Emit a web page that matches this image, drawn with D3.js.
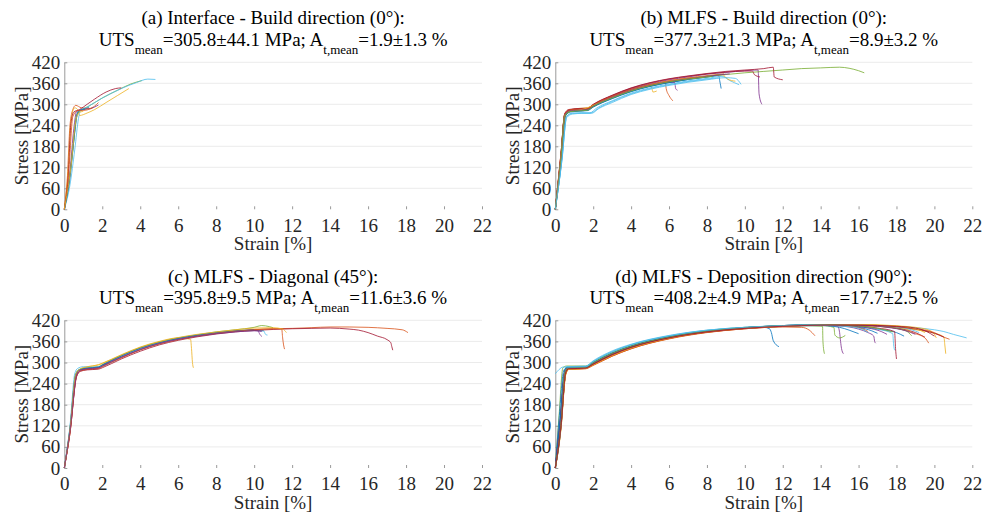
<!DOCTYPE html>
<html><head><meta charset="utf-8">
<script src="https://cdn.jsdelivr.net/npm/d3@7/dist/d3.min.js"></script>
<style>
html,body{margin:0;padding:0;background:#fff;}
svg{display:block;}
</style></head>
<body>
<svg id="chart" width="993" height="516"></svg>
<script>
// ---------------- DATA ----------------
const xTicks = [0,2,4,6,8,10,12,14,16,18,20,22];
const yTicks = [0,60,120,180,240,300,360,420];
const xLabel = "Strain [%]";
const yLabel = "Stress [MPa]";
const lineColors = ["#0072BD","#D95319","#EDB120","#7E2F8E","#77AC30","#4DBEEE","#A2142F"];

const titlesLine1 = [
  "(a) Interface - Build direction (0°):",
  "(b) MLFS - Build direction (0°):",
  "(c) MLFS - Diagonal (45°):",
  "(d) MLFS - Deposition direction (90°):"
];
const utsText = ["=305.8±44.1 MPa; A","=377.3±21.3 MPa; A","=395.8±9.5 MPa; A","=408.2±4.9 MPa; A"];
const atText  = ["=1.9±1.3 %","=8.9±3.2 %","=11.6±3.6 %","=17.7±2.5 %"];

const curvesA = [
  [[0,0],[0.2,60],[0.45,170],[0.65,265],[0.75,282],[1.0,285],[1.3,292]],
  [[0,0],[0.15,80],[0.3,240],[0.45,285],[0.6,297],[0.9,290],[1.3,288],[1.6,295],[1.8,305]],
  [[0,0],[0.2,110],[0.35,255],[0.55,290],[0.7,285],[0.8,268],[1.2,275],[1.6,285],[2.2,305],[2.8,325],[3.4,345]],
  [[0,0],[0.3,110],[0.5,230],[0.65,280],[1.0,285],[1.4,288],[1.8,298]],
  [[0,0],[0.25,80],[0.5,200],[0.65,270],[0.9,283],[1.3,295],[2,318],[2.8,340],[3.5,358],[4.1,368]],
  [[0,0],[0.3,70],[0.55,170],[0.75,260],[0.85,282],[1.2,292],[2,318],[3,345],[3.8,362],[4.4,372],[4.8,371]],
  [[0,0],[0.2,90],[0.35,245],[0.5,278],[0.8,285],[1.2,300],[1.6,315],[2.2,335],[2.7,345],[3,347]],
  [[0,0],[0.3,90],[0.55,220],[0.7,275],[0.9,285],[1.1,287]],
  [[0,0],[0.25,120],[0.45,265],[0.7,282],[1.1,283],[1.5,290]],
  [[0,0],[0.35,120],[0.6,250],[0.75,275],[1.0,280]]
];

const curvesB = [
  [[0,0],[0.3,150],[0.5,268],[0.7,280],[1.2,282],[1.7,284],[2,294],[3,318],[4,338],[5,352],[6,362],[7,371],[8,378],[8.6,383],[8.7,360],[8.75,345]],
  [[0,0],[0.3,160],[0.5,272],[0.7,283],[1.2,285],[1.7,286],[2,298],[3,322],[4,342],[5,355],[5.8,362],[5.85,345],[6.0,325],[6.2,310]],
  [[0,0],[0.3,155],[0.5,270],[0.7,282],[1.2,288],[1.7,290],[2,299],[3,323],[4,342],[5,352],[5.1,345],[5.15,335],[5.35,338]],
  [[0,0],[0.3,150],[0.5,270],[0.7,282],[1.2,284],[1.7,286],[2,298],[3,324],[4,345],[5,359],[6,370],[7,378],[8,386],[9,391],[10,396],[10.7,398],[10.75,330],[10.9,300]],
  [[0,0],[0.3,140],[0.55,268],[0.8,280],[1.2,282],[1.7,284],[2,293],[3,318],[4,338],[5,353],[6,364],[7,372],[8,379],[9,385],[10,390],[11,394],[12,398],[13,402],[14,404],[15,406],[15.5,403],[16,396],[16.3,390]],
  [[0,0],[0.35,140],[0.6,265],[0.9,275],[1.4,276],[1.8,275],[2.2,290],[3,310],[4,332],[5,347],[6,358],[7,367],[8,374],[8.8,380],[9.2,368],[9.7,356]],
  [[0,0],[0.3,160],[0.5,274],[0.7,285],[1.2,288],[1.7,289],[2,300],[3,326],[4,347],[5,362],[6,373],[7,381],[8,388],[9,394],[10,398],[11,402],[11.5,406],[11.55,378],[12,370]],
  [[0,0],[0.35,150],[0.55,268],[0.8,278],[1.2,280],[1.7,282],[2,292],[3,316],[4,336],[5,351],[6,362],[7,371],[8,378],[8.5,382]],
  [[0,0],[0.3,150],[0.55,272],[0.8,282],[1.3,284],[1.8,286],[2,296],[3,321],[4,341],[5,356],[6,367],[7,375],[8,382],[8.9,387]],
  [[0,0],[0.3,150],[0.5,268],[0.75,280],[1.2,283],[1.7,285],[2,295],[3,320],[4,340],[5,354],[6,365],[7,373],[8,380],[8.8,385],[9.1,372],[9.5,366]],
  [[0,0],[0.3,155],[0.5,270],[0.75,282],[1.2,285],[1.7,287],[2,297],[3,322],[4,343],[5,356],[6,364],[6.3,362],[6.35,345],[6.45,340]],
  [[0,0],[0.3,150],[0.5,268],[0.8,280],[1.2,283],[1.7,285],[2,295],[3,319],[4,339],[5,354],[6,365],[7,373],[8,380],[9,386]],
  [[0,0],[0.35,145],[0.6,266],[0.9,274],[1.4,275],[1.9,276],[2.3,290],[3,308],[4,330],[5,345],[6,356],[7,365],[8,372],[8.6,376]],
  [[0,0],[0.3,155],[0.5,272],[0.75,284],[1.2,287],[1.7,288],[2,299],[3,325],[4,346],[5,361],[6,372],[7,380],[8,387],[9,392],[10,395],[10.4,395],[10.5,385],[10.8,378]],
  [[0,0],[0.3,150],[0.5,268],[0.75,279],[1.2,281],[1.7,283],[2,293],[3,317],[4,337],[5,352],[6,363],[7,371]],
  [[0,0],[0.3,160],[0.5,273],[0.75,284],[1.2,286],[1.7,287],[2,298],[3,323],[4,343],[5,357],[6,367],[7,375],[7.5,378]],
  [[0,0],[0.3,150],[0.5,269],[0.8,281],[1.2,283],[1.7,290],[2,297],[3,320],[4,340],[5,355],[6,366],[7,374],[8,380]],
  [[0,0],[0.3,150],[0.5,269],[0.75,281],[1.2,283],[1.7,285],[2,295],[3,320],[4,340],[5,354],[6,365],[7,373],[8,380],[9,386],[9.2,387]],
  [[0,0],[0.3,148],[0.5,268],[0.8,279],[1.2,281],[1.7,283],[2,294],[3,318],[4,338],[5,353],[6,364],[7,372],[8,378],[8.3,380]],
  [[0,0],[0.35,140],[0.6,262],[0.9,272],[1.4,274],[1.9,274],[2.3,288],[3,305],[4,328],[5,343],[6,354],[7,363],[8,370],[9,376],[9.5,374],[9.8,357]]
];

const curvesC = [
  [[0,0],[0.3,110],[0.6,262],[0.75,278],[1.2,283],[1.8,286],[2,292],[3,318],[4,340],[5,356],[6,368],[7,377],[8,384],[9,389],[10,392],[10.5,390]],
  [[0,0],[0.3,100],[0.65,262],[0.85,276],[1.2,280],[1.8,283],[2,288],[3,313],[4,336],[5,353],[6,366],[7,376],[8,384],[9,390],[10,394],[11,396],[12,397],[13,399],[14,401],[15,401],[16,400],[17,397],[17.8,393],[18.1,385]],
  [[0,0],[0.3,110],[0.6,265],[0.8,280],[1.2,287],[1.8,294],[2,298],[3,322],[4,344],[5,360],[6,370],[6.65,366],[6.7,340],[6.75,300],[6.8,285]],
  [[0,0],[0.3,105],[0.65,265],[0.8,278],[1.2,282],[1.8,285],[2,291],[3,316],[4,338],[5,355],[6,367],[7,376],[8,383],[9,389],[10,392],[10.2,390],[10.3,380],[10.4,374]],
  [[0,0],[0.3,110],[0.6,265],[0.8,280],[1.2,285],[1.8,288],[2,294],[3,320],[4,342],[5,358],[6,370],[7,379],[8,387],[9,393],[10,400],[10.4,405],[10.8,402],[11,399]],
  [[0,0],[0.3,120],[0.55,268],[0.7,283],[1.0,288],[1.5,287],[2,290],[3,316],[4,338],[5,354],[6,366],[7,375],[8,382],[9,388],[10,391],[10.5,390],[10.6,380],[10.7,378]],
  [[0,0],[0.3,100],[0.65,260],[0.85,275],[1.2,279],[1.8,281],[2,285],[3,310],[4,332],[5,350],[6,363],[7,373],[8,381],[9,387],[10,391],[11,394],[12,396],[13,397],[14,398],[15,395],[15.5,392],[16,385],[16.5,375],[17,365],[17.2,356],[17.25,345],[17.3,335]],
  [[0,0],[0.3,115],[0.6,266],[0.8,280],[1.2,284],[1.8,287],[2,293],[3,319],[4,341],[5,357],[6,369],[7,378],[8,385],[9,390],[10,393]],
  [[0,0],[0.3,100],[0.65,263],[0.85,277],[1.2,281],[1.8,284],[2,289],[3,314],[4,336],[5,353],[6,365],[7,375],[8,383],[9,389],[10,393],[11,396],[11.45,396],[11.5,370],[11.55,350],[11.6,338]],
  [[0,0],[0.3,112],[0.6,266],[0.8,281],[1.2,288],[1.8,293],[2,297],[3,321],[4,343],[5,359],[6,371],[7,380],[8,387],[9,393],[10,398],[11,399],[11.5,395],[11.7,385]],
  [[0,0],[0.3,105],[0.65,264],[0.85,278],[1.2,282],[1.8,285],[2,290],[3,315],[4,337],[5,354],[6,366],[7,375],[8,382],[9,387],[10,390],[10.4,388]]
];

const curvesD = [
  [[0,0],[0.25,120],[0.45,265],[0.6,283],[1.6,285],[2,297],[3,324],[4,344],[6,371],[8,388],[10,398],[11,400],[11.3,396],[11.4,385],[11.5,362],[11.8,345]],
  [[0,0],[0.3,130],[0.5,270],[0.65,282],[1.6,284],[2,294],[3,320],[4,341],[6,369],[8,386],[10,396],[12,401],[13,400],[13.4,392],[13.7,376]],
  [[0,0],[0.3,110],[0.55,265],[0.7,280],[1.6,283],[2,293],[3,319],[4,340],[6,368],[8,386],[10,397],[12,403],[14,406],[16,405],[18,399],[19,393],[20,383],[20.5,373],[20.55,350],[20.6,325]],
  [[0,0],[0.25,120],[0.5,272],[0.6,284],[1.6,286],[2,299],[3,326],[4,346],[6,372],[8,389],[10,399],[12,404],[14,406],[14.9,403],[15,385],[15.05,360],[15.1,340],[15.2,325]],
  [[0,0],[0.2,150],[0.4,285],[0.6,290],[1.6,290],[2,303],[3,330],[4,350],[6,375],[8,391],[10,400],[12,404],[13,405],[14.1,403],[14.12,360],[14.2,325]],
  [[0,0],[0.3,130],[0.5,275],[0.6,288],[1.6,290],[2,305],[3,333],[4,352],[6,377],[8,392],[10,400],[12,404],[14,407],[16,406],[18,403],[19,399],[20,393],[20.5,388],[21,380],[21.7,370]],
  [[0,0],[0.25,130],[0.5,275],[0.6,285],[1.6,286],[2,299],[3,326],[4,346],[6,372],[8,389],[10,399],[12,405],[14,408],[16,407],[17,404],[18,398],[19,385],[19.5,372]],
  [[0,0],[0.2,140],[0.45,278],[0.6,285],[1.6,286],[2,298],[3,325],[4,345],[6,372],[8,389],[10,399],[12,405],[14,408],[15,407],[16,402],[17,395],[18,385],[18.4,375]],
  [[0,0],[0.3,120],[0.55,270],[0.7,282],[1.6,284],[2,295],[3,321],[4,342],[6,369],[8,387],[10,397],[12,403],[14,406],[16,406],[17,403],[18,397],[19,382],[19.5,370],[19.7,355]],
  [[0,0],[0.3,125],[0.5,268],[0.65,283],[1.6,285],[2,296],[3,323],[4,344],[6,371],[8,388],[10,398],[12,404],[14,407],[16,407],[18,404],[19,400],[19.8,390],[20,380],[20.1,370]],
  [[0,0],[0.25,130],[0.5,273],[0.6,284],[1.6,286],[2,298],[3,325],[4,345],[6,371],[8,388],[10,398],[12,404],[14,406],[15,404],[16,395],[16.5,385],[16.8,375],[16.85,360],[16.9,355]],
  [[0,0],[0.3,120],[0.55,270],[0.7,283],[1.6,285],[2,297],[3,324],[4,344],[6,371],[8,388],[10,398],[12,404],[14,405],[14.7,400],[14.75,378],[15,370],[15.3,377]],
  [[0,0],[0.3,115],[0.55,268],[0.7,282],[1.6,284],[2,295],[3,322],[4,343],[6,370],[8,387],[10,397],[12,403],[14,406],[16,403],[17,395],[17.8,382],[17.85,350],[17.9,335]],
  [[0,0],[0.25,125],[0.5,271],[0.6,283],[1.6,285],[2,297],[3,324],[4,345],[6,371],[8,388],[10,398],[12,404],[14,407],[16,404],[17,398],[17.9,388],[17.95,340],[18,310]],
  [[0,0],[0.3,120],[0.55,270],[0.7,282],[1.6,284],[2,296],[3,322],[4,343],[6,370],[8,387],[10,397],[12,403],[14,405],[15,400],[15.5,392],[16,382]],
  [[0,0],[0.3,115],[0.55,268],[0.7,281],[1.6,283],[2,292],[3,318],[4,339],[6,367],[8,385],[10,396],[12,402],[14,406],[16,406],[18,402],[19,396],[20,385],[20.5,372],[20.8,366]],
  [[0,0],[0.3,120],[0.5,270],[0.65,283],[1.6,285],[2,296],[3,323],[4,344],[6,371],[8,388],[10,398],[12,404],[14,407],[16,407],[17.5,404],[18.5,396],[18.8,385]],
  [[0,0],[0.25,130],[0.5,274],[0.6,285],[1.6,287],[2,299],[3,326],[4,346],[6,372],[8,389],[10,399],[12,404],[14,407],[15.5,404],[16.5,398],[17.2,388],[17.5,380]],
  [[0,0],[0.3,130],[0.55,272],[0.7,284],[1.6,286],[2,298],[3,325],[4,345],[6,371],[8,388],[10,398],[12,404],[14,407],[16,406],[17.5,401],[18.5,390],[18.8,376]],
  [[0,0],[0.3,125],[0.5,272],[0.6,286],[1.6,288],[2,302],[3,330],[4,350],[6,375],[8,391],[10,400],[12,405],[14,408],[16,407],[18,401],[18.8,393],[19.2,385]],
  [[0,0],[0.3,125],[0.55,270],[0.7,283],[1.6,285],[2,296],[3,323],[4,344],[6,370],[8,387],[10,397],[12,404],[14,407],[16,407],[18,402],[19,395],[20,383],[20.5,372]],
  [[0,0],[0.25,135],[0.5,276],[0.6,286],[1.6,287],[2,300],[3,327],[4,347],[6,373],[8,389],[10,399],[12,405],[14,408],[15,406],[16,400],[16.7,390],[17,383]],
  [[0,0],[0.3,120],[0.55,268],[0.7,280],[1.6,282],[2,292],[3,318],[4,339],[6,368],[8,386],[10,396],[12,403],[14,406],[15.5,403],[16.2,396],[16.5,388]],
  [[0,0],[0.3,115],[0.55,266],[0.7,280],[1.6,283],[2,293],[3,320],[4,341],[6,369],[8,387],[10,397],[12,403],[14,407],[16,408],[17.5,406],[18.5,401],[19.2,393],[19.5,385]],
  [[0,0],[0.3,120],[0.5,270],[0.65,283],[1.6,285],[2,297],[3,324],[4,344],[6,371],[8,388],[10,398],[12,404],[14,407],[16,406],[17.5,400],[18.5,390],[19,380]],
  [[0,0],[0.3,125],[0.5,272],[0.65,284],[1.6,286],[2,299],[3,326],[4,346],[6,372],[8,389],[10,399],[12,405],[14,407],[16,404],[17,397],[17.8,387]],
  [[0,268],[0.2,280],[0.4,287],[1.6,288],[2,303],[3,331],[4,351],[6,376],[8,392],[10,400],[12,405],[13,407],[14,406],[15.5,402],[16.2,394],[16.5,385]],
  [[0,0],[0.3,120],[0.55,270],[0.7,282],[1.6,284],[2,295],[3,322],[4,343],[6,370],[8,387],[10,397],[12,403],[14,406],[16,406],[18,403],[19,398],[19.6,388],[20,375]]
];

// ---------------- LAYOUT ----------------
const panels = [
  {curves: curvesA, left: 64.3, right: 482, top: 62.3, bottom: 209.3, t1: 24, t2: 45.5, xl: 250, yl: 21},
  {curves: curvesB, left: 555.3, right: 972.3, top: 62.3, bottom: 209.3, t1: 24, t2: 45.5, xl: 250, yl: 512},
  {curves: curvesC, left: 64.3, right: 482, top: 320.3, bottom: 468, t1: 282.5, t2: 304, xl: 508.5, yl: 21},
  {curves: curvesD, left: 555.3, right: 972.3, top: 320.3, bottom: 468, t1: 282.5, t2: 304, xl: 508.5, yl: 512}
];

const svg = d3.select("#chart");
const FS = 19;
const FONT = "Liberation Serif";

panels.forEach((p, i) => {
  const x = d3.scaleLinear().domain([0, 22]).range([p.left, p.right]);
  const y = d3.scaleLinear().domain([0, 420]).range([p.bottom, p.top]);
  const g = svg.append("g");

  g.append("g").selectAll("line").data(yTicks.filter(v => v > 0)).join("line")
    .attr("x1", p.left).attr("x2", p.right)
    .attr("y1", d => y(d)).attr("y2", d => y(d))
    .attr("stroke", "#ebebeb").attr("stroke-width", 1);

  const xa = g.append("g").attr("transform", `translate(0,${p.bottom})`)
    .call(d3.axisBottom(x).tickValues(xTicks).tickSizeInner(-3).tickSizeOuter(0).tickPadding(9).tickFormat(d3.format("d")));
  xa.attr("font-family", null).attr("font-size", null);
  xa.select(".domain").remove();
  xa.selectAll(".tick line").attr("stroke", "#9a9a9a");
  xa.selectAll("text").attr("fill", "#262626").attr("font-family", FONT).attr("font-size", FS);

  const ya = g.append("g").attr("transform", `translate(${p.left},0)`)
    .call(d3.axisLeft(y).tickValues(yTicks).tickSizeInner(-3).tickSizeOuter(0).tickPadding(4).tickFormat(d3.format("d")));
  ya.attr("font-family", null).attr("font-size", null);
  ya.select(".domain").attr("stroke", "#9a9a9a");
  ya.selectAll(".tick line").attr("stroke", "#9a9a9a");
  ya.selectAll("text").attr("fill", "#262626").attr("font-family", FONT).attr("font-size", FS);

  const line = d3.line().x(d => x(d[0])).y(d => y(d[1])).curve(d3.curveMonotoneX);
  g.append("g").selectAll("path").data(p.curves).join("path")
    .attr("d", line)
    .attr("fill", "none")
    .attr("stroke", (d, k) => lineColors[k % lineColors.length])
    .attr("stroke-width", 1)
    .attr("stroke-opacity", 0.8)
    .attr("stroke-linejoin", "round");

  const cx = (p.left + p.right) / 2;
  g.append("text").attr("x", cx).attr("y", p.t1).attr("text-anchor", "middle")
    .attr("font-family", FONT).attr("font-size", FS).attr("fill", "#000").text(titlesLine1[i]);
  const t2 = g.append("text").attr("x", cx).attr("y", p.t2).attr("text-anchor", "middle")
    .attr("font-family", FONT).attr("font-size", FS).attr("fill", "#000");
  t2.append("tspan").text("UTS");
  t2.append("tspan").attr("dy", 8).attr("font-size", 13).text("mean");
  t2.append("tspan").attr("dy", -8).text(utsText[i]);
  t2.append("tspan").attr("dy", 8).attr("font-size", 13).text("t,mean");
  t2.append("tspan").attr("dy", -8).text(atText[i]);

  g.append("text").attr("x", cx).attr("y", p.xl).attr("text-anchor", "middle")
    .attr("font-family", FONT).attr("font-size", FS).attr("fill", "#262626").text(xLabel);
  g.append("text").attr("transform", `translate(${p.yl},${(p.top + p.bottom) / 2}) rotate(-90)`)
    .attr("text-anchor", "middle").attr("dy", "0.35em")
    .attr("font-family", FONT).attr("font-size", FS).attr("fill", "#262626").text(yLabel);
});
</script>
</body></html>
